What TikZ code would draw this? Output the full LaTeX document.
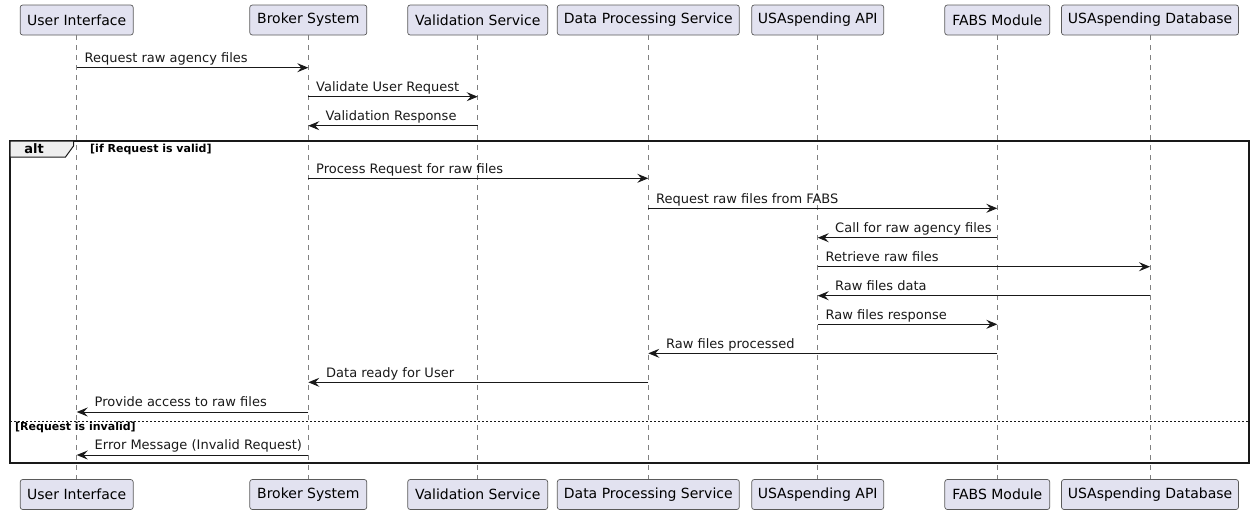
\documentclass[tikz,border=0pt]{standalone}
\usepackage{fontspec}
\setmainfont{DejaVu Sans}
\usetikzlibrary{arrows.meta}
\definecolor{boxfill}{HTML}{E2E2F0}
\definecolor{boxline}{HTML}{5A5A5A}
\definecolor{lifeln}{HTML}{808080}
\definecolor{tabfill}{HTML}{EEEEEE}
\tikzset{
  part/.style={draw=boxline, fill=boxfill, line width=0.7pt, rounded corners=2.5pt,
    minimum height=30pt, inner sep=0pt, font=\fontsize{14}{16}\selectfont},
  life/.style={draw=lifeln, line width=0.7pt, dash pattern=on 5pt off 5pt},
  msg/.style={draw=black!90, line width=1pt, -{Stealth[length=11pt,width=9pt,inset=4pt]}},
  lbl/.style={inner sep=0pt, font=\fontsize{13}{15}\selectfont, text=black!90},
  frm/.style={draw=black!90, line width=1.6pt},
  grdl/.style={inner sep=0pt, font=\fontsize{11}{13}\selectfont\bfseries}
}
\begin{document}
\begin{tikzpicture}[x=1pt,y=-1pt]
\useasboundingbox (0,0) rectangle (1255,515);
% participants top
\node[part, minimum width=113pt] (uiT) at (76.7,20) {User Interface};
\node[part, minimum width=117pt] (brT) at (308.3,20) {Broker System};
\node[part, minimum width=140pt] (vaT) at (477.7,20) {Validation Service};
\node[part, minimum width=182pt] (dpT) at (648.3,20) {Data Processing Service};
\node[part, minimum width=132pt] (apT) at (817.7,20) {USAspending API};
\node[part, minimum width=105pt] (fbT) at (997.3,20) {FABS Module};
\node[part, minimum width=177pt] (dbT) at (1150,20) {USAspending Database};
% participants bottom
\node[part, minimum width=113pt] (uiB) at (76.7,494.5) {User Interface};
\node[part, minimum width=117pt] (brB) at (308.3,494.5) {Broker System};
\node[part, minimum width=140pt] (vaB) at (477.7,494.5) {Validation Service};
\node[part, minimum width=182pt] (dpB) at (648.3,494.5) {Data Processing Service};
\node[part, minimum width=132pt] (apB) at (817.7,494.5) {USAspending API};
\node[part, minimum width=105pt] (fbB) at (997.3,494.5) {FABS Module};
\node[part, minimum width=177pt] (dbB) at (1150,494.5) {USAspending Database};
% lifelines
\foreach \p in {ui,br,va,dp,ap,fb,db}{
  \draw[life] (\p T.south) -- (\p B.north);
}
% alt frame
\draw[frm] (10,141) rectangle (1249,463);
\draw[draw=black!90, line width=1pt, fill=tabfill] (10,141) -- (73.5,141) -- (73.5,146) -- (65.5,157) -- (10,157) -- cycle;
\node[inner sep=0pt, font=\fontsize{13}{15}\selectfont\bfseries, anchor=base] (altl) at (34,153.5) {alt};
\node[grdl, anchor=base west] (g1) at (90,152.5) {[if Request is valid]};
\draw[draw=black!90, line width=0.9pt, dash pattern=on 2pt off 2pt] (10,421.7) -- (1249,421.7);
\node[grdl, anchor=base west] (g2) at (15,430.5) {[Request is invalid]};
% messages
\draw[msg] (uiT |- 0,67.7) -- (brT |- 0,67.7);
\node[lbl, anchor=base west] (l1) at (84.5,62.5) {Request raw agency files};
\draw[msg] (brT |- 0,96.7) -- (vaT |- 0,96.7);
\node[lbl, anchor=base west] (l2) at (316,91.5) {Validate User Request};
\draw[msg] (vaT |- 0,125.7) -- (brT |- 0,125.7);
\node[lbl, anchor=base west] (l3) at (325.5,120.5) {Validation Response};
\draw[msg] (brT |- 0,178.3) -- (dpT |- 0,178.3);
\node[lbl, anchor=base west] (l4) at (316,173.1) {Process Request for raw files};
\draw[msg] (dpT |- 0,208.3) -- (fbT |- 0,208.3);
\node[lbl, anchor=base west] (l5) at (656,203.1) {Request raw files from FABS};
\draw[msg] (fbT |- 0,237.7) -- (apT |- 0,237.7);
\node[lbl, anchor=base west] (l6) at (835,232.5) {Call for raw agency files};
\draw[msg] (apT |- 0,266.7) -- (dbT |- 0,266.7);
\node[lbl, anchor=base west] (l7) at (825.5,261.5) {Retrieve raw files};
\draw[msg] (dbT |- 0,295.7) -- (apT |- 0,295.7);
\node[lbl, anchor=base west] (l8) at (835,290.5) {Raw files data};
\draw[msg] (apT |- 0,324.3) -- (fbT |- 0,324.3);
\node[lbl, anchor=base west] (l9) at (825.5,319.1) {Raw files response};
\draw[msg] (fbT |- 0,353.3) -- (dpT |- 0,353.3);
\node[lbl, anchor=base west] (l10) at (666,348.1) {Raw files processed};
\draw[msg] (dpT |- 0,382.3) -- (brT |- 0,382.3);
\node[lbl, anchor=base west] (l11) at (326,377.1) {Data ready for User};
\draw[msg] (brT |- 0,412) -- (uiT |- 0,412);
\node[lbl, anchor=base west] (l12) at (94.5,406.8) {Provide access to raw files};
\draw[msg] (brT |- 0,455) -- (uiT |- 0,455);
\node[lbl, anchor=base west] (l13) at (94.5,449.8) {Error Message (Invalid Request)};
\end{tikzpicture}
\end{document}
